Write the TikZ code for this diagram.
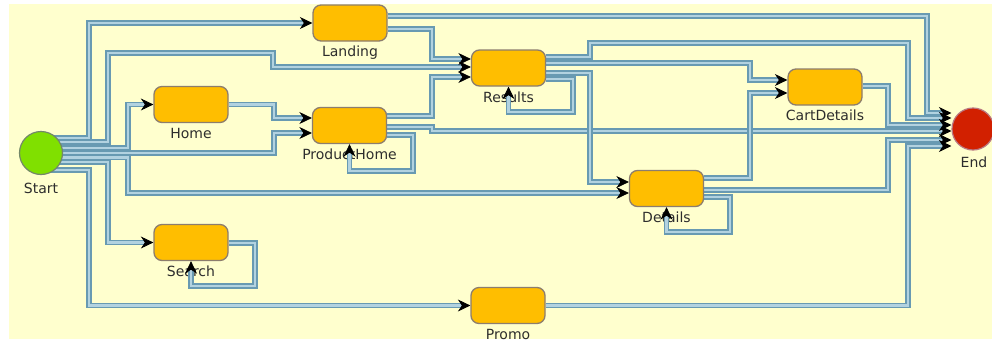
\documentclass[tikz,border=0pt]{standalone}
\usepackage{fontspec}
\newfontfamily\lblfont{DejaVu Sans}
\usetikzlibrary{arrows.meta,decorations.markings,calc}

\definecolor{paper}{RGB}{255,255,206}
\definecolor{boxfill}{RGB}{255,190,0}
\definecolor{boxline}{RGB}{140,125,110}
\definecolor{startfill}{RGB}{128,224,0}
\definecolor{startline}{RGB}{115,135,105}
\definecolor{endfill}{RGB}{210,32,0}
\definecolor{endline}{RGB}{185,120,130}
\definecolor{wireout}{RGB}{104,154,178}
\definecolor{wirein}{RGB}{178,210,224}
\definecolor{txt}{RGB}{45,45,45}

\pgfdeclarelayer{lbl}
\pgfdeclarelayer{wires}
\pgfsetlayers{lbl,wires,main}

\tikzset{
  state/.style={draw=boxline, line width=1.3pt, fill=boxfill, rounded corners=8pt,
    minimum width=74pt, minimum height=36pt, inner sep=0pt},
  terminal/.style={circle, line width=1.2pt, minimum size=43pt, inner sep=0pt},
  tag/.style={font=\lblfont\fontsize{14pt}{14pt}\selectfont, text=txt, anchor=base, inner sep=0pt},
  wire/.style={draw=wireout, line width=5.6pt, shorten >=6pt,
    postaction={draw=wirein, line width=2.1pt, shorten >=6pt},
    postaction={decorate, decoration={markings,
      mark=at position 1 with {\arrow{Stealth[black,length=12.5pt,width=12pt,inset=4pt,line width=0.8pt]}}}}}
}

\begin{document}
\begin{tikzpicture}[x=1pt,y=-1pt]
\useasboundingbox (0,0) rectangle (992,343);

% states
\node[terminal, fill=startfill, draw=startline] (start) at (41,153) {};
\node[terminal, fill=endfill, draw=endline, minimum size=42pt] (stop) at (973,129) {};
\node[state] (landing) at (350,23) {};
\node[state] (results) at (508.5,68) {};
\node[state] (home) at (191,104.5) {};
\node[state] (product) at (349.5,125.5) {};
\node[state] (cart) at (825,87) {};
\node[state] (details) at (666.5,188.5) {};
\node[state] (search) at (191,242.5) {};
\node[state] (promo) at (508,305.5) {};

% canvas and captions
\begin{pgfonlayer}{lbl}
\fill[white] (0,0) rectangle (992,343);
\fill[paper] (9,4) rectangle (992,339);
\node[tag] (starttag) at ($(start.south)+(0,18)$) {Start};
\node[tag] (stoptag) at ($(stop.south)+(1,17)$) {End};
\node[tag] (landingtag) at ($(landing.south)+(0,15)$) {Landing};
\node[tag] (resultstag) at ($(results.south)+(0,15.5)$) {Results};
\node[tag] (hometag) at ($(home.south)+(0,15)$) {Home};
\node[tag] (producttag) at ($(product.south)+(0,15)$) {ProductHome};
\node[tag] (carttag) at ($(cart.south)+(0,15)$) {CartDetails};
\node[tag] (detailstag) at ($(details.south)+(0,15)$) {Details};
\node[tag] (searchtag) at ($(search.south)+(0,15)$) {Search};
\node[tag] (promotag) at ($(promo.south)+(0,15)$) {Promo};
\end{pgfonlayer}

% transitions
\begin{pgfonlayer}{wires}
\draw[wire] (start.center |- 0,138) -- (89,138) -- (89,23) -- (landing.west);
\draw[wire] (start.center |- 0,142) -- (108,142) -- (108,53) -- (273,53) -- (273,67) -- (results.west |- 0,67);
\draw[wire] (start.center |- 0,148) -- (128,148) -- (128,104.5) -- (home.west);
\draw[wire] (start.center |- 0,153) -- (274,153) -- (274,133) -- (product.west |- 0,133);
\draw[wire] (start.center |- 0,157.5) -- (128,157.5) -- (128,193) -- (details.west |- 0,193);
\draw[wire] (start.center |- 0,162) -- (108,162) -- (108,242.5) -- (search.west);
\draw[wire] (start.center |- 0,170) -- (89,170) -- (89,305.5) -- (promo.west);

\draw[wire] (landing.east |- 0,16) -- (927,16) -- (927,113) -- (stop.west |- 0,113);
\draw[wire] (landing.east |- 0,29) -- (432,29) -- (432,59) -- (results.west |- 0,59);
\draw[wire] (home.east) -- (274,104.5) -- (274,118) -- (product.west |- 0,118);
\draw[wire] (product.east |- 0,116) -- (432,116) -- (432,77) -- (results.west |- 0,77);
\draw[wire] (product.east |- 0,127) -- (432,127) -- (432,131) -- (stop.west |- 0,131);
\draw[wire] (product.east |- 0,135) -- (413,135) -- (413,171) -- (product.south |- 0,171) -- (product.south);
\draw[wire] (results.east |- 0,57) -- (590,57) -- (590,43) -- (908,43) -- (908,118) -- (stop.west |- 0,118);
\draw[wire] (results.east |- 0,63) -- (750,63) -- (750,80) -- (cart.west |- 0,80);
\draw[wire] (results.east |- 0,73) -- (590,73) -- (590,182) -- (details.west |- 0,182);
\draw[wire] (results.east |- 0,79) -- (573,79) -- (573,112) -- (results.south |- 0,112) -- (results.south);
\draw[wire] (cart.east |- 0,86) -- (888,86) -- (888,125) -- (stop.west |- 0,125);
\draw[wire] (details.east |- 0,178) -- (750,178) -- (750,93) -- (cart.west |- 0,93);
\draw[wire] (details.east |- 0,190) -- (888,190) -- (888,140) -- (stop.west |- 0,140);
\draw[wire] (details.east |- 0,197) -- (730,197) -- (730,232) -- (details.south |- 0,232) -- (details.south);
\draw[wire] (promo.east) -- (908,305.5) -- (908,146) -- (stop.west |- 0,146);
\draw[wire] (search.east |- 0,243) -- (255,243) -- (255,286) -- (search.south |- 0,286) -- (search.south);
\end{pgfonlayer}
\end{tikzpicture}
\end{document}
